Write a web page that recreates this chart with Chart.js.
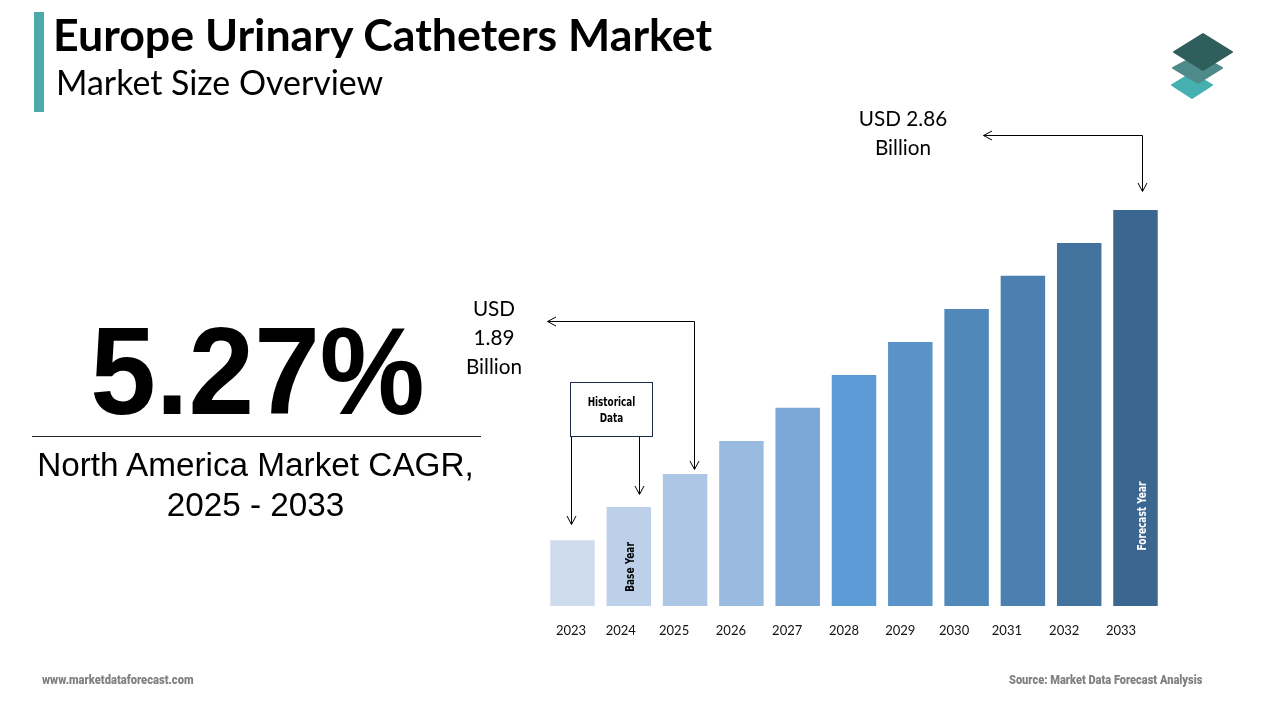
<!DOCTYPE html>
<html>
<head>
<meta charset="utf-8">
<title>Europe Urinary Catheters Market</title>
<script src="https://cdn.jsdelivr.net/npm/chart.js@4"></script>
<style>
  html, body { margin: 0; padding: 0; background: #fff; }
  #page { position: relative; width: 1280px; height: 720px; overflow: hidden; }
  #chart, #marks { position: absolute; left: 0; top: 0; }
  .txt { position: absolute; white-space: nowrap; color: #000; }
  .accent { position: absolute; left: 34px; top: 12px; width: 10px; height: 100px; background: #4aabaa; }
  .title { left: 53px; top: 7px; font: bold 44.7px Lato, sans-serif; }
  .subtitle { left: 56px; top: 62px; font: 33.9px Lato, sans-serif; }
  .cagr { left: 0; width: 515px; text-align: center; top: 303px; font: bold 118px "Liberation Sans", sans-serif; transform: scaleY(1.05); }
  .rule { position: absolute; left: 32px; top: 436px; width: 449px; height: 1px; background: #222; }
  .cagr-sub { left: 0; width: 511px; text-align: center; top: 445px; font: 33.3px/40px "Liberation Sans", sans-serif; }
  .callout { text-align: center; font: 20.7px/29px Lato, sans-serif; }
  .hist-box { position: absolute; left: 570px; top: 382px; width: 81px; height: 53px; border: 1px solid #1c2b4a; background: #fff;
              text-align: center; font: bold 12px/16px "DejaVu Sans Condensed", sans-serif; }
  .hist-box span { display: block; transform: scaleX(0.82); }
  .rot { font: bold 12.5px "DejaVu Sans Condensed", sans-serif; transform: translate(-50%, -50%) rotate(-90deg) scaleX(0.8); }
  .foot { font: 900 12px Roboto, sans-serif; color: #808080; transform-origin: left center; }
</style>
</head>
<body>
<div id="page">
  <canvas id="chart" width="1280" height="720"></canvas>

  <svg id="marks" width="1280" height="720" viewBox="0 0 1280 720" fill="none">
    <g stroke-linejoin="round">
      <polygon points="1172,85 1192,73 1212,85 1192,98" fill="#45b0b0" stroke="#45b0b0" stroke-width="2"/>
      <polygon points="1173,68 1198,55 1222,68 1198,83" fill="#4f8a8b" stroke="#4f8a8b" stroke-width="2"/>
      <polygon points="1174,52 1203,34 1232,52 1203,70" fill="#2f5f5c" stroke="#2f5f5c" stroke-width="2"/>
    </g>
    <g stroke="#000" stroke-width="1">
      <path d="M547.5 321.5H694.5V469"/>
      <path d="M556 317L547.5 321.5L556 326"/>
      <path d="M690 461L694.5 469.5L699 461"/>
      <path d="M983.5 135.5H1142.5V191"/>
      <path d="M992 131L983.5 135.5L992 140"/>
      <path d="M1138 183L1142.5 191.5L1147 183"/>
      <path d="M571.5 436V524"/>
      <path d="M567 516L571.5 524.5L576 516"/>
      <path d="M639.5 436V494"/>
      <path d="M635 486L639.5 494.5L644 486"/>
    </g>
  </svg>

  <div class="accent"></div>
  <div class="txt title">Europe Urinary Catheters Market</div>
  <div class="txt subtitle">Market Size Overview</div>

  <div class="txt cagr">5.27%</div>
  <div class="rule"></div>
  <div class="txt cagr-sub">North America Market CAGR,<br>2025 - 2033</div>

  <div class="txt callout" style="left:444px; width:100px; top:294px;">USD<br>1.89<br>Billion</div>
  <div class="txt callout" style="left:843px; width:120px; top:104px;">USD 2.86<br>Billion</div>

  <div class="hist-box"><span style="margin-top:11px;">Historical</span><span>Data</span></div>

  <div class="txt rot" style="left:629px; top:567px;">Base Year</div>
  <div class="txt rot" style="left:1141px; top:516px; color:#fff;">Forecast Year</div>

  <div class="txt foot" style="left:42px; top:673px; transform:scaleX(0.93);">www.marketdataforecast.com</div>
  <div class="txt foot" style="left:1009px; top:673px; transform:scaleX(0.92);">Source: Market Data Forecast Analysis</div>
</div>

<script>
const years = ['2023', '2024', '2025', '2026', '2027', '2028', '2029', '2030', '2031', '2032', '2033'];
const marketSize = [1.647, 1.769, 1.89, 2.011, 2.133, 2.254, 2.375, 2.496, 2.618, 2.739, 2.86];
const barColors = ['#cfdcee', '#bdd0e9', '#aec6e5', '#9abbe0', '#7ba7d7', '#5c9bd5',
                   '#5a93c8', '#5188ba', '#4c80b0', '#42739f', '#3b6690'];
// the year labels sit left of their bars by an uneven amount
const labelNudge = [-1.5, -8, -11, -10.5, -10.5, -10, -10, -12.5, -16, -15, -14.5];

const nudgeLabels = {
    id: 'nudgeLabels',
    beforeDraw(chart) {
        chart.scales.x.getLabelItems().forEach((item, i) => {
            if (item.nudged) return;
            item.options.translation[0] += labelNudge[i];
            item.nudged = true;
        });
    }
};

new Chart(document.getElementById('chart'), {
    type: 'bar',
    data: {
        labels: years,
        datasets: [{
            data: marketSize,
            backgroundColor: barColors,
            barPercentage: 0.79,
            categoryPercentage: 1,
        }]
    },
    options: {
        responsive: false,
        animation: false,
        layout: { padding: { left: 544.35, right: 116.35, top: 210, bottom: 0 } },
        plugins: { legend: { display: false }, tooltip: { enabled: false } },
        scales: {
            x: {
                grid: { display: false },
                border: { display: false },
                ticks: { color: '#111', font: { family: 'Lato', size: 13 }, padding: 9, maxRotation: 0, autoSkip: false },
                afterFit(scale) { scale.height = 114; },
            },
            y: { display: false, min: 1.405, max: 2.86 },
        },
    },
    plugins: [nudgeLabels],
});
</script>
</body>
</html>
